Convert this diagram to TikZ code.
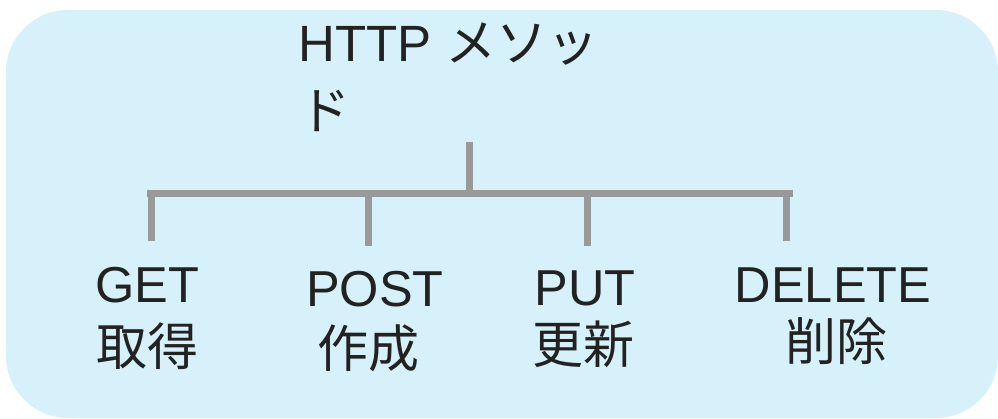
\documentclass[tikz,border=0pt]{standalone}
\usepackage{fontspec}
\setmainfont{Liberation Sans}
\newfontfamily\cjk{Noto Sans CJK JP}
\definecolor{bgblue}{HTML}{D6F1F9}
\definecolor{linegray}{HTML}{999999}
\definecolor{txt}{HTML}{222222}
\tikzset{
  lbl/.style={font=\fontsize{50.5}{60}\selectfont, text=txt, inner sep=0pt, anchor=base},
  lblj/.style={font=\fontsize{51}{60}\selectfont\cjk, text=txt, inner sep=0pt, anchor=base},
  ttl/.style={font=\fontsize{51}{60}\selectfont, text=txt, inner sep=0pt, anchor=base west},
  conn/.style={draw=linegray, line width=7pt}
}
\begin{document}
\begin{tikzpicture}[x=1pt,y=-1pt]
\useasboundingbox (0,0) rectangle (998,419);
\fill[bgblue, rounded corners=62pt] (6,10) rectangle (998,418);
% title
\node[ttl] (t1) at (298,62) {HTTP {\cjk\fontsize{51}{60}\selectfont メソッ}};
\node[ttl] (t2) at (299,130) {\cjk\fontsize{51}{60}\selectfont ド};
% tree junctions
\coordinate (top) at (469,142);
\coordinate (mid) at (469,194);
\coordinate (bl) at (147,194);
\coordinate (br) at (793,194);
\coordinate (c1) at (151,190);
\coordinate (c2) at (368,194);
\coordinate (c3) at (587,194);
\coordinate (c4) at (786,190);
\coordinate (e1) at (151,241);
\coordinate (e2) at (368,246);
\coordinate (e3) at (587,246);
\coordinate (e4) at (786,241);
\draw[conn] (top) -- (mid);
\draw[conn] (bl) -- (br);
\draw[conn] (c1) -- (e1);
\draw[conn] (c2) -- (e2);
\draw[conn] (c3) -- (e3);
\draw[conn] (c4) -- (e4);
% labels
\node[lbl] (get) at (147,303) {GET};
\node[lblj] (getj) at (147,366) {取得};
\node[lbl] (post) at (375,307) {POST};
\node[lblj] (postj) at (368,367) {作成};
\node[lbl] (put) at (585,306) {PUT};
\node[lblj] (putj) at (583,363) {更新};
\node[lbl] (del) at (833,303) {DELETE};
\node[lblj] (delj) at (836,360) {削除};
\end{tikzpicture}
\end{document}
